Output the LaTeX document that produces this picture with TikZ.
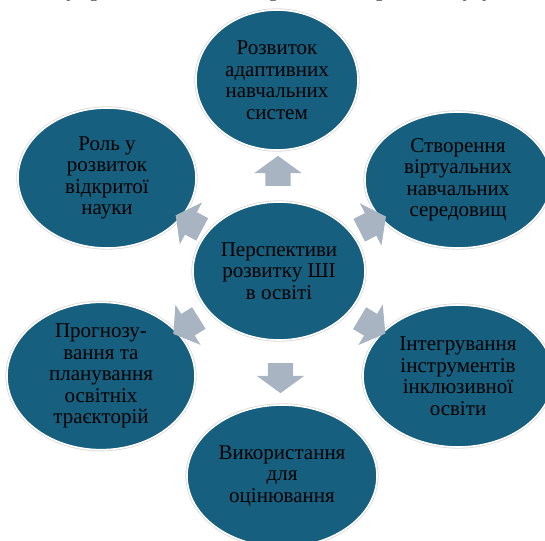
\documentclass[tikz,border=0pt]{standalone}
\usepackage{fontspec}
\setmainfont{Liberation Serif}
\usetikzlibrary{shapes.geometric, shapes.arrows, positioning, calc}
\definecolor{discfill}{HTML}{175F7E}
\definecolor{arrfill}{HTML}{A9B4C2}

\begin{document}
\begin{tikzpicture}[x=1pt, y=-1pt,
  disc/.style = {ellipse, fill=discfill, draw=white, line width=1.6pt,
    preaction={draw=black!15, line width=3.2pt},
    align=center, inner sep=0, text=black,
    font=\rmfamily\fontsize{21}{21.5}\selectfont},
  barrow/.style = {single arrow, fill=arrfill, inner sep=0,
    text height=12.5pt, text depth=12.5pt,
    minimum height=30pt, minimum width=47pt,
    single arrow head extend=11pt, single arrow tip angle=108},
  ]
  \useasboundingbox (0,0) rectangle (545,540);
  \clip (0,0) rectangle (545,540);

  \node[anchor=base west, inner sep=0, font=\rmfamily\fontsize{26}{30}\selectfont] (head) at (-6, -4)
    {на. Внутрішній вплив перспектив розвитку у};

  \node[disc, minimum width=172pt, minimum height=138pt] (c) at (279, 271) {Перспективи\\розвитку ШІ\\в освіті};
  \node[disc, minimum width=162pt, minimum height=140pt] (adapt) at (277, 80) {Розвиток\\адаптивних\\навчальних\\систем};
  \node[disc, minimum width=186pt, minimum height=136pt] (virt) at (458, 180) {Створення\\віртуальних\\навчальних\\середовищ};
  \node[disc, minimum width=190pt, minimum height=142pt] (incl) at (458, 376) {Інтегрування\\інструментів\\інклюзивної\\освіти};
  \node[disc, minimum width=190pt, minimum height=142pt] (eval) at (282, 476) {Використання\\для\\оцінювання};
  \node[disc, minimum width=188pt, minimum height=142pt] (plan) at (101, 376) {Прогнозу-\\вання та\\планування\\освітніх\\траєкторій};
  \node[disc, minimum width=178pt, minimum height=140pt] (open) at (107, 178) {Роль у\\розвиток\\відкритої\\науки};

  \node[barrow, rotate=90] (a1) at ($(c)!0.5!(adapt)$) {};
  \node[barrow, rotate=27] (a2) at ($(c)!0.5!(virt)$) {};
  \node[barrow, rotate=-31] (a3) at ($(c)!0.5!(incl)$) {};
  \node[barrow, rotate=-90] (a4) at ($(c)!0.5!(eval)$) {};
  \node[barrow, rotate=212] (a5) at ($(c)!0.5!(plan)$) {};
  \node[barrow, rotate=152] (a6) at ($(c)!0.5!(open)$) {};
\end{tikzpicture}
\end{document}
